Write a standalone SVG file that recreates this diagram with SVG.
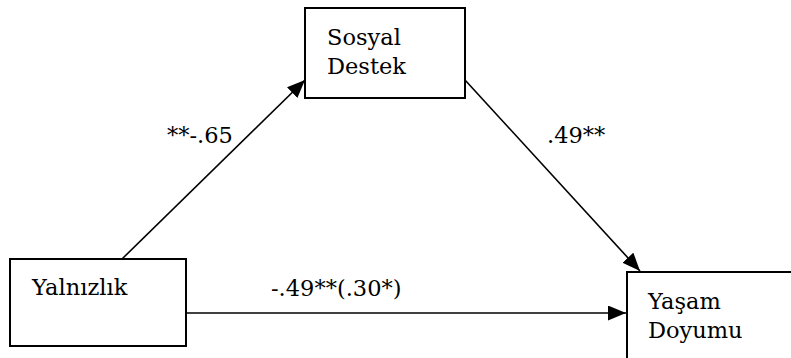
<svg xmlns="http://www.w3.org/2000/svg" width="791" height="358" viewBox="0 0 791 358">
  <style>
    .box { fill: #ffffff; stroke: #000000; stroke-width: 2; }
    .lbl { font-family: 'DejaVu Serif', serif; font-size: 22.5px; fill: #000000; }
    .conn { stroke: #000000; stroke-width: 1.6; fill: none; marker-end: url(#arrow); }
  </style>
  <defs>
    <marker id="arrow" markerUnits="userSpaceOnUse" markerWidth="19" markerHeight="15" refX="18" refY="7.5" orient="auto">
      <path d="M0,0 L18,7.5 L0,15 z" fill="#000000"/>
    </marker>
  </defs>
  <rect width="791" height="358" fill="#ffffff"/>
  <g id="connectors">
    <line class="conn" x1="122" y1="259" x2="305" y2="80"/>
    <line class="conn" x1="465" y1="80" x2="640" y2="271"/>
    <line class="conn" x1="186" y1="313" x2="626" y2="313"/>
    <text class="lbl" x="167" y="143">**-.65</text>
    <text class="lbl" x="547" y="143">.49**</text>
    <text class="lbl" x="271" y="296">-.49**(.30*)</text>
  </g>
  <g id="sosyal-destek">
    <rect class="box" x="305" y="8" width="160" height="90"/>
    <text class="lbl" x="327" y="45">Sosyal</text>
    <text class="lbl" x="327" y="74">Destek</text>
  </g>
  <g id="yalnizlik">
    <rect class="box" x="10" y="259" width="176" height="87"/>
    <text class="lbl" x="32" y="295">Yalnızlık</text>
  </g>
  <g id="yasam-doyumu">
    <rect class="box" x="627" y="272" width="200" height="100"/>
    <text class="lbl" x="648" y="309">Yaşam</text>
    <text class="lbl" x="648" y="338">Doyumu</text>
  </g>
</svg>
